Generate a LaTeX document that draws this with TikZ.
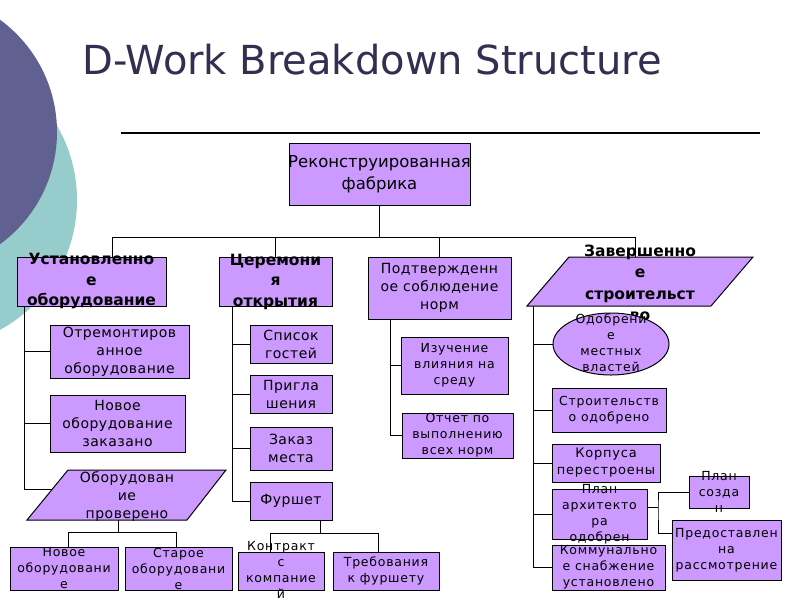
\documentclass[tikz,border=0pt]{standalone}
\usepackage{fontspec}
\setmainfont{DejaVu Sans}
\newfontfamily\wbsn[LetterSpace=6]{DejaVu Sans}
\newfontfamily\wbsm[LetterSpace=3.5]{DejaVu Sans}
\usetikzlibrary{shapes.geometric,fit,calc}
\definecolor{lav}{HTML}{CC99FF}
\definecolor{slatec}{RGB}{97,97,145}
\definecolor{tealc}{RGB}{150,204,203}
\definecolor{ttl}{RGB}{50,47,80}
\tikzset{
  box/.style={draw=black, fill=lav, line width=1pt, inner sep=0pt, outer sep=0pt},
  shp/.style={draw=black, fill=lav, line width=1pt},
  boldt/.style={align=center, inner sep=0pt, font=\bfseries\fontsize{15.5}{20.5}\selectfont},
  midt/.style={align=center, inner sep=0pt, font=\wbsm\fontsize{14}{18}\selectfont},
  smallt/.style={align=center, inner sep=0pt, font=\wbsn\fontsize{12.5}{16}\selectfont},
  wire/.style={draw=black, line width=1pt},
}
\begin{document}
\begin{tikzpicture}[x=1pt,y=-1pt]
\useasboundingbox (0,0) rectangle (800,600);
\fill[white] (0,0) rectangle (800,600);
\begin{scope}
  \clip (0,0) rectangle (800,600);
  \fill[tealc] (-71,200) circle[radius=148pt];
  \fill[slatec] (-82,132) circle[radius=139pt];
\end{scope}

% title and rule
\node[anchor=base west, text=ttl, inner sep=0pt, font=\fontsize{40}{46}\selectfont] (title) at (82,74) {D-Work Breakdown Structure};
\coordinate (ruleL) at (121,133);
\coordinate (ruleR) at (760,133);
\draw[line width=1.2pt] (ruleL) -- (ruleR);

% root
\node[box, fit={(289,143)(470,205)}] (root) {};
\node[align=center, inner sep=0pt, font=\fontsize{16.5}{22}\selectfont] (roott) at (root) {Реконструированная\\фабрика};

% level 1
\node[box, fit={(17,257)(166,306)}] (a) {};
\node[boldt] (at) at (a) {Установленно\\е\\оборудование};
\node[box, fit={(219,257)(332,306)}] (b) {};
\node[boldt] (bt) at (b) {Церемони\\я\\открытия};
\node[box, fit={(368,257)(511,319)}] (c) {};
\node[midt] (ct) at (c) {Подтвержденн\\ое соблюдение\\норм};
\draw[shp] (569,257) -- (753,257) -- (711,306) -- (527,306) -- cycle;
\coordinate (d) at (640,281.5);
\node[boldt, font=\bfseries\fontsize{15.5}{21.5}\selectfont] (dt) at (640,283) {Завершенно\\е\\строительст\\во};

% bus
\coordinate (bus) at (0,237);
\coordinate (atop) at (112,257);
\coordinate (dtop) at (635,257);
\draw[wire] (root.south) -- (root.south |- bus);
\draw[wire] (atop) -- (atop |- bus) -- (dtop |- bus) -- (dtop);
\draw[wire] (b.north) -- (b.north |- bus);
\draw[wire] (c.north) -- (c.north |- bus);

% children of a
\node[box, fit={(50,325)(189,378)}] (a1) {};
\node[midt] (a1t) at (a1) {Отремонтиров\\анное\\оборудование};
\node[box, fit={(50,395)(185,452)}] (a2) {};
\node[midt] (a2t) at (a2) {Новое\\оборудование\\заказано};
\draw[shp] (68,470) -- (226,470) -- (187,520) -- (27,520) -- cycle;
\coordinate (a3) at (127,495);
\coordinate (a3w) at (52.4,489);
\coordinate (a3s) at (118,520);
\coordinate (abot) at (24,306);
\draw[wire] (abot) -- (abot |- a3w) -- (a3w);
\draw[wire] (abot |- a1.west) -- (a1.west);
\draw[wire] (abot |- a2.west) -- (a2.west);

\node[box, fit={(10,547)(118,590)}] (a31) {};
\node[box, fit={(125,547)(232,590)}] (a32) {};
\coordinate (a3bus) at (118,532);
\coordinate (a31top) at (68,547);
\coordinate (a32top) at (176,547);
\draw[wire] (a3s) -- (a3bus);
\draw[wire] (a31top) -- (a31top |- a3bus) -- (a32top |- a3bus) -- (a32top);
\node[midt] (a3t) at (127,497) {Оборудован\\ие\\проверено};
\node[smallt] (a31t) at (a31) {Новое\\оборудовани\\е};
\node[smallt] (a32t) at (a32) {Старое\\оборудовани\\е};

% children of b
\node[box, fit={(250,325)(332,363)}] (b1) {};
\node[midt] (b1t) at (b1) {Список\\гостей};
\node[box, fit={(250,375)(332,413)}] (b2) {};
\node[midt] (b2t) at (b2) {Пригла\\шения};
\node[box, fit={(250,427)(332,470)}] (b3) {};
\node[midt] (b3t) at (b3) {Заказ\\места};
\node[box, fit={(250,482)(332,520)}] (b4) {};
\coordinate (bbot) at (232,306);
\draw[wire] (bbot) |- (b4.west);
\draw[wire] (bbot |- b1.west) -- (b1.west);
\draw[wire] (bbot |- b2.west) -- (b2.west);
\draw[wire] (bbot |- b3.west) -- (b3.west);

\node[box, fit={(238,552)(324,590)}] (b41) {};
\node[box, fit={(333,552)(439,590)}] (b42) {};
\coordinate (b4s) at (320,520);
\coordinate (b4bus) at (320,533);
\coordinate (b41top) at (270,552);
\coordinate (b42top) at (378,552);
\draw[wire] (b4s) -- (b4bus);
\draw[wire] (b41top) -- (b41top |- b4bus) -- (b42top |- b4bus) -- (b42top);
\node[midt] (b4t) at (b4) {Фуршет};
\node[smallt] (b41t) at (281,570) {Контракт\\с\\компание\\й};
\node[smallt] (b42t) at (b42) {Требования\\к фуршету};

% children of c
\node[box, fit={(401,337)(508,394)}] (c1) {};
\node[smallt] (c1t) at (c1) {Изучение\\влияния на\\среду};
\node[box, fit={(402,413)(513,458)}] (c2) {};
\node[smallt] (c2t) at (c2) {Отчет по\\выполнению\\всех норм};
\coordinate (cbot) at (390,319);
\draw[wire] (cbot) |- (c2.west);
\draw[wire] (cbot |- c1.west) -- (c1.west);

% children of d
\node[ellipse, shp, minimum width=116pt, minimum height=62pt, inner sep=0pt] (d1) at (611,344) {};
\node[smallt] (d1t) at (611,343) {Одобрени\\е\\местных\\властей};
\node[box, fit={(552,388)(666,432)}] (d2) {};
\node[smallt] (d2t) at (d2) {Строительств\\о одобрено};
\node[box, fit={(552,444)(660,482)}] (d3) {};
\node[smallt, font=\wbsn\fontsize{13}{17}\selectfont] (d3t) at (d3) {Корпуса\\перестроены};
\node[box, fit={(552,489)(647,539)}] (d4) {};
\node[box, fit={(552,545)(665,590)}] (d5) {};
\coordinate (dbot) at (533,306);
\draw[wire] (dbot) |- (d5.west);
\draw[wire] (dbot |- d1.west) -- (d1.west);
\draw[wire] (dbot |- d2.west) -- (d2.west);
\draw[wire] (dbot |- d3.west) -- (d3.west);
\draw[wire] (dbot |- d4.west) -- (d4.west);

\node[box, fit={(689,476)(749,508)}] (d41) {};
\node[box, fit={(672,520)(781,580)}] (d42) {};
\coordinate (d4e) at (647,507);
\coordinate (d4j) at (658,507);
\coordinate (d42w) at (672,533);
\draw[wire] (d4e) -- (d4j);
\draw[wire] (d41.west) -| (d4j) |- (d42w);
\node[smallt] (d4t) at (d4) {План\\архитекто\\ра\\одобрен};
\node[smallt] (d5t) at (d5) {Коммунально\\е снабжение\\установлено};
\node[smallt] (d41t) at (d41) {План\\созда\\н};
\node[smallt] (d42t) at (d42) {Предоставлен\\на\\рассмотрение};
\end{tikzpicture}
\end{document}
